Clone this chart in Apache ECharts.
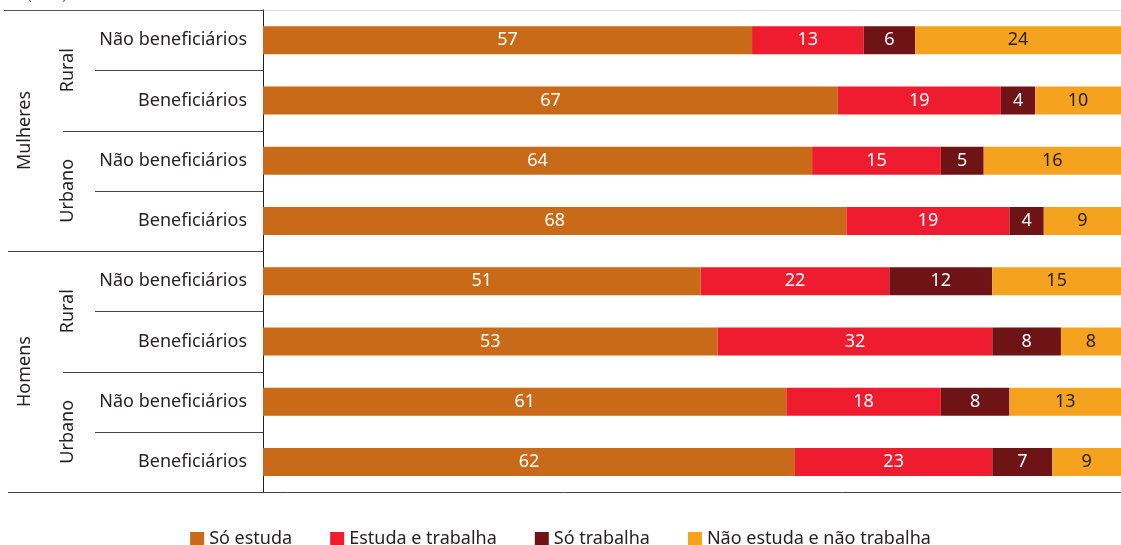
<!DOCTYPE html>
<html>
<head>
<meta charset="utf-8">
<script src="https://cdn.jsdelivr.net/npm/echarts@6/dist/echarts.min.js"></script>
<style>
  html, body { margin: 0; padding: 0; background: #fff; }
  #chart { width: 1121px; height: 545px; }
</style>
</head>
<body>
<div id="chart"></div>
<script>
// rows, top to bottom
const rows = [
  'Não beneficiários', 'Beneficiários', 'Não beneficiários', 'Beneficiários',
  'Não beneficiários', 'Beneficiários', 'Não beneficiários', 'Beneficiários'
]
const areas = ['Rural', 'Urbano', 'Rural', 'Urbano']
const sexes = ['Mulheres', 'Homens']

const soEstuda = [57, 67, 64, 68, 51, 53, 61, 62]
const estudaTrabalha = [13, 19, 15, 19, 22, 32, 18, 23]
const soTrabalha = [6, 4, 5, 4, 12, 8, 8, 7]
const nenhum = [24, 10, 16, 9, 15, 8, 13, 9]

const seriesNames = ['Só estuda', 'Estuda e trabalha', 'Só trabalha', 'Não estuda e não trabalha']
const colors = ['#c96a19', '#ee1c2e', '#6e1416', '#f5a31e']
const labelColors = ['#fff', '#fff', '#fff', '#231f20']

const FONT = 'Noto Sans'
const SIZE = 18
const el = document.getElementById('chart')
const chart = echarts.init(el)

const makeSeries = (name, data, i) => ({
  name,
  type: 'bar',
  stack: 'total',
  barWidth: 28,
  data,
  itemStyle: { color: colors[i] },
  label: {
    show: true,
    position: 'inside',
    color: labelColors[i],
    fontFamily: FONT,
    fontSize: SIZE
  }
})

const option = {
  animation: false,
  color: colors,
  grid: { left: 263, right: 0, top: 10, bottom: 53 },
  legend: {
    top: 525,
    left: 'center',
    icon: 'rect',
    itemWidth: 14,
    itemHeight: 14,
    itemGap: 38,
    textStyle: { fontFamily: FONT, fontSize: SIZE, color: '#231f20' }
  },
  xAxis: {
    type: 'value',
    min: 0,
    max: 100,
    show: false
  },
  yAxis: {
    type: 'category',
    inverse: true,
    data: rows,
    axisLine: { show: true, lineStyle: { color: '#231f20', width: 1 } },
    axisTick: { show: false },
    axisLabel: { fontFamily: FONT, fontSize: SIZE, color: '#231f20', margin: 16 }
  },
  series: [
    makeSeries(seriesNames[0], soEstuda, 0),
    makeSeries(seriesNames[1], estudaTrabalha, 1),
    makeSeries(seriesNames[2], soTrabalha, 2),
    makeSeries(seriesNames[3], nenhum, 3)
  ]
}

chart.setOption(option)

// dividers and group labels placed from the category axis
const rowY = i => chart.convertToPixel({ yAxisIndex: 0 }, i)
const step = rowY(1) - rowY(0)
const edge = i => rowY(i) - step / 2
const axisX = 263
const rightX = 1121

const hline = (x1, x2, y, color) => ({
  type: 'line',
  shape: { x1, y1: Math.round(y) + 0.5, x2, y2: Math.round(y) + 0.5 },
  style: { stroke: color, lineWidth: 1 },
  silent: true
})

const vtext = (text, x, y) => ({
  type: 'text',
  x, y,
  rotation: Math.PI / 2,
  style: {
    text, fontFamily: FONT, fontSize: SIZE, fill: '#231f20',
    align: 'center', verticalAlign: 'middle'
  },
  silent: true
})

const graphics = []
graphics.push(hline(axisX, rightX, edge(0), '#d9d9d9'))
graphics.push(hline(4, axisX, edge(0), '#555'))
graphics.push(hline(8, rightX, edge(8), '#444'))
graphics.push(hline(8, axisX, edge(4), '#444'))
for (let k = 0; k < 4; k++) {
  graphics.push(hline(95, axisX, edge(2 * k + 1), '#444'))
  if (k === 0 || k === 2) graphics.push(hline(63, axisX, edge(2 * k + 2), '#444'))
  graphics.push(vtext(areas[k], 68, edge(2 * k + 1)))
}
sexes.forEach((s, j) => graphics.push(vtext(s, 25, edge(4 * j + 2))))
graphics.push({
  type: 'text', x: 28, y: -9,
  style: { text: '(Em %)', fontFamily: FONT, fontSize: 12, fill: '#555' },
  silent: true
})

chart.setOption({ graphic: graphics })
</script>
</body>
</html>
